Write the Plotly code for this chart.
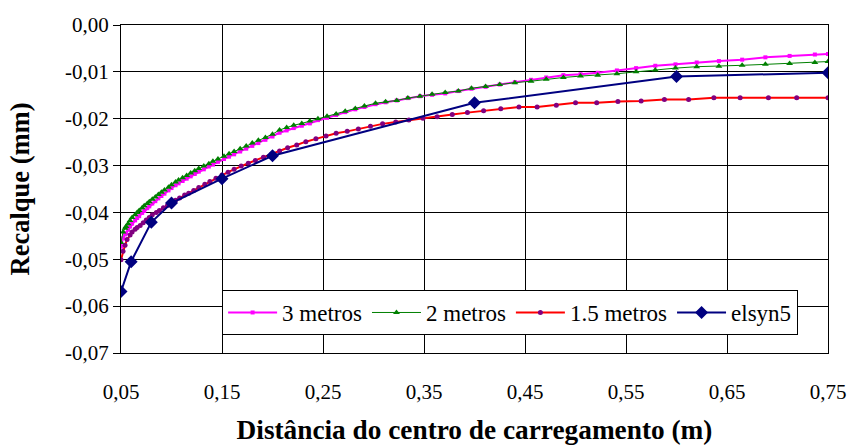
import plotly.graph_objects as go

# ---- data ----
x_3m = [0.050, 0.052, 0.054, 0.055, 0.057, 0.059, 0.061, 0.064, 0.066, 0.068, 0.071, 0.073, 0.076, 0.078,
        0.081, 0.084, 0.087, 0.090, 0.093, 0.097, 0.100, 0.104, 0.107, 0.111, 0.115, 0.119, 0.123, 0.127,
        0.132, 0.137, 0.141, 0.146, 0.152, 0.157, 0.162, 0.168, 0.174, 0.180, 0.186, 0.193, 0.200, 0.207,
        0.214, 0.221, 0.229, 0.237, 0.245, 0.254, 0.263, 0.272, 0.282, 0.291, 0.302, 0.312, 0.323, 0.334,
        0.346, 0.358, 0.371, 0.384, 0.397, 0.411, 0.425, 0.440, 0.456, 0.471, 0.488, 0.505, 0.522, 0.541,
        0.560, 0.579, 0.599, 0.620, 0.642, 0.665, 0.688, 0.712, 0.737, 0.750]
y_3m = [-0.0473, -0.0455, -0.0447, -0.0444, -0.0437, -0.0430, -0.0424, -0.0417, -0.0412, -0.0408, -0.0401,
        -0.0397, -0.0391, -0.0387, -0.0381, -0.0376, -0.0370, -0.0365, -0.0360, -0.0353, -0.0348, -0.0342,
        -0.0338, -0.0333, -0.0328, -0.0323, -0.0318, -0.0313, -0.0308, -0.0302, -0.0298, -0.0292, -0.0286,
        -0.0281, -0.0276, -0.0270, -0.0264, -0.0258, -0.0252, -0.0245, -0.0238, -0.0230, -0.0225, -0.0220,
        -0.0215, -0.0210, -0.0203, -0.0198, -0.0192, -0.0186, -0.0180, -0.0175, -0.0169, -0.0165, -0.0161,
        -0.0156, -0.0152, -0.0149, -0.0146, -0.0141, -0.0136, -0.0132, -0.0127, -0.0122, -0.0117, -0.0112,
        -0.0107, -0.0105, -0.0102, -0.0097, -0.0092, -0.0087, -0.0084, -0.0080, -0.0077, -0.0074, -0.0069,
        -0.0066, -0.0063, -0.0062]

x_2m = list(x_3m)
y_2m = [-0.0464, -0.0442, -0.0434, -0.0430, -0.0424, -0.0417, -0.0411, -0.0405, -0.0400, -0.0396, -0.0390,
        -0.0386, -0.0381, -0.0377, -0.0372, -0.0367, -0.0362, -0.0357, -0.0352, -0.0346, -0.0341, -0.0335,
        -0.0331, -0.0326, -0.0321, -0.0316, -0.0311, -0.0306, -0.0301, -0.0296, -0.0291, -0.0286, -0.0280,
        -0.0275, -0.0270, -0.0264, -0.0258, -0.0252, -0.0246, -0.0240, -0.0233, -0.0224, -0.0219, -0.0214,
        -0.0210, -0.0205, -0.0200, -0.0195, -0.0190, -0.0184, -0.0178, -0.0173, -0.0167, -0.0164, -0.0161,
        -0.0156, -0.0152, -0.0148, -0.0144, -0.0141, -0.0135, -0.0131, -0.0127, -0.0123, -0.0120, -0.0116,
        -0.0112, -0.0109, -0.0107, -0.0104, -0.0100, -0.0096, -0.0092, -0.0089, -0.0088, -0.0086, -0.0084,
        -0.0082, -0.0080, -0.0078]

x_15m = [0.050, 0.052, 0.054, 0.056, 0.059, 0.061, 0.064, 0.066, 0.069, 0.072, 0.075, 0.078, 0.081, 0.085,
         0.088, 0.092, 0.096, 0.100, 0.104, 0.108, 0.113, 0.117, 0.122, 0.127, 0.133, 0.138, 0.144, 0.150,
         0.156, 0.162, 0.169, 0.176, 0.183, 0.191, 0.199, 0.207, 0.215, 0.224, 0.233, 0.243, 0.253, 0.263,
         0.274, 0.285, 0.297, 0.309, 0.322, 0.335, 0.349, 0.363, 0.378, 0.393, 0.409, 0.426, 0.444, 0.462,
         0.481, 0.500, 0.521, 0.542, 0.565, 0.588, 0.612, 0.637, 0.663, 0.691, 0.719, 0.750]
y_15m = [-0.0501, -0.0483, -0.0470, -0.0458, -0.0448, -0.0442, -0.0436, -0.0432, -0.0428, -0.0422, -0.0416,
         -0.0411, -0.0405, -0.0400, -0.0396, -0.0390, -0.0385, -0.0379, -0.0374, -0.0369, -0.0363, -0.0359,
         -0.0353, -0.0347, -0.0340, -0.0334, -0.0327, -0.0320, -0.0314, -0.0308, -0.0301, -0.0295, -0.0289,
         -0.0282, -0.0276, -0.0269, -0.0262, -0.0256, -0.0249, -0.0243, -0.0237, -0.0231, -0.0227, -0.0222,
         -0.0216, -0.0211, -0.0207, -0.0203, -0.0199, -0.0196, -0.0191, -0.0187, -0.0183, -0.0179, -0.0175,
         -0.0175, -0.0171, -0.0166, -0.0166, -0.0163, -0.0162, -0.0159, -0.0159, -0.0155, -0.0155, -0.0155,
         -0.0155, -0.0155]

x_elsyn = [0.05, 0.06, 0.08, 0.10, 0.15, 0.20, 0.40, 0.60, 0.75]
y_elsyn = [-0.0569, -0.0505, -0.0421, -0.0380, -0.0328, -0.0279, -0.0166, -0.0110, -0.0102]

x_tickvals = [0.05, 0.15, 0.25, 0.35, 0.45, 0.55, 0.65, 0.75]
x_ticktext = ["0,05", "0,15", "0,25", "0,35", "0,45", "0,55", "0,65", "0,75"]
y_tickvals = [0.0, -0.01, -0.02, -0.03, -0.04, -0.05, -0.06, -0.07]
y_ticktext = ["0,00", "-0,01", "-0,02", "-0,03", "-0,04", "-0,05", "-0,06", "-0,07"]

FONT = "Liberation Serif"

fig = go.Figure()
fig.add_trace(go.Scatter(x=x_3m, y=y_3m, name="3 metros", mode="lines+markers",
                         line=dict(color="#FF00FF", width=2),
                         marker=dict(symbol="square", size=4, color="#FF00FF")))
fig.add_trace(go.Scatter(x=x_2m, y=y_2m, name="2 metros", mode="lines+markers",
                         line=dict(color="#008000", width=1),
                         marker=dict(symbol="triangle-up", size=6, color="#008000")))
fig.add_trace(go.Scatter(x=x_15m, y=y_15m, name="1.5 metros", mode="lines+markers",
                         line=dict(color="#FF0000", width=2),
                         marker=dict(symbol="circle", size=5, color="#800080")))
fig.add_trace(go.Scatter(x=x_elsyn, y=y_elsyn, name="elsyn5", mode="lines+markers",
                         line=dict(color="#000080", width=2),
                         marker=dict(symbol="diamond", size=10, color="#000080")))

fig.update_layout(
    width=848, height=448,
    margin=dict(l=121, r=20, t=25, b=95, autoexpand=False),
    paper_bgcolor="white", plot_bgcolor="white",
    font=dict(family=FONT, size=21, color="black"),
    showlegend=True,
    legend=dict(orientation="h", x=0.143, y=0.192, xanchor="left", yanchor="top",
                bgcolor="white", bordercolor="black", borderwidth=1,
                font=dict(family=FONT, size=23, color="black"),
                itemwidth=49, tracegroupgap=0, itemsizing="trace"),
)
fig.update_xaxes(
    range=[0.05, 0.75], tickvals=x_tickvals, ticktext=x_ticktext,
    showgrid=True, gridcolor="#000000", gridwidth=1,
    showline=True, linecolor="black", linewidth=1, mirror=True,
    ticks="", ticklabelstandoff=20, zeroline=False,
    tickfont=dict(family=FONT, size=21),
    title=dict(text="<b>Distância do centro de carregamento (m)</b>",
               font=dict(family=FONT, size=27.3), standoff=16),
    automargin=False,
)
fig.update_yaxes(
    range=[-0.07, 0.0], tickvals=y_tickvals, ticktext=y_ticktext,
    showgrid=True, gridcolor="#000000", gridwidth=1,
    showline=True, linecolor="black", linewidth=1, mirror=True,
    ticks="outside", ticklen=7, tickcolor="black", zeroline=False,
    tickfont=dict(family=FONT, size=21),
    title=dict(text="<b>Recalque (mm)</b>", font=dict(family=FONT, size=26.5), standoff=27),
    automargin=False,
)

fig.write_html("out.html", config={"displayModeBar": False},
               post_script="document.body.style.margin='0';document.body.style.overflow='hidden';")
